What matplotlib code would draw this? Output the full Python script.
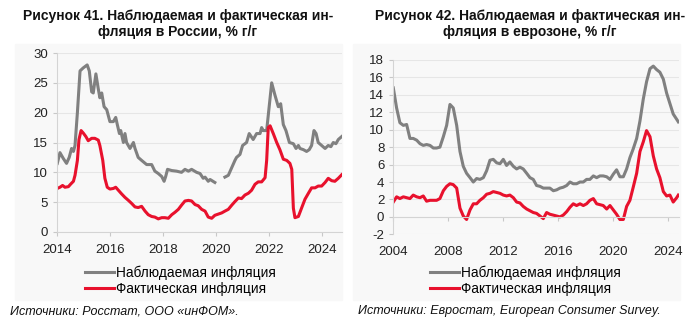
import numpy as np
import matplotlib
matplotlib.use("Agg")
import matplotlib.pyplot as plt
from matplotlib.patches import Rectangle

plt.rcParams['font.family'] = ['Liberation Sans', 'DejaVu Sans']
plt.rcParams['axes.unicode_minus'] = False

# --- Russia (Рисунок 41) ---
ru_obs_x = [2014.00, 2014.10, 2014.23, 2014.35, 2014.45, 2014.54, 2014.61, 2014.67, 2014.76, 2014.86,
            2014.98, 2015.13, 2015.21, 2015.30, 2015.36, 2015.46, 2015.55, 2015.61, 2015.68, 2015.77,
            2015.87, 2015.99, 2016.12, 2016.21, 2016.27, 2016.35, 2016.40, 2016.50, 2016.56, 2016.62,
            2016.75, 2016.88, 2016.94, 2017.06, 2017.19, 2017.38, 2017.57, 2017.69, 2017.82, 2017.95,
            2018.04, 2018.10, 2018.17, 2018.33, 2018.51, 2018.70, 2018.83, 2018.96, 2019.08, 2019.27,
            2019.40, 2019.52, 2019.59, 2019.71, 2019.78, 2019.96, 2020.15,
            2020.34, 2020.47, 2020.57, 2020.72, 2020.78, 2020.91, 2021.01, 2021.16, 2021.26, 2021.41,
            2021.54, 2021.67, 2021.73, 2021.79, 2021.92, 2022.11, 2022.23, 2022.36, 2022.45, 2022.55,
            2022.65, 2022.78, 2022.93, 2023.03, 2023.12, 2023.18, 2023.31, 2023.43, 2023.53, 2023.62,
            2023.71, 2023.79, 2023.87, 2024.00, 2024.13, 2024.25, 2024.35, 2024.44, 2024.54, 2024.63,
            2024.76]
ru_obs = [11.5, 13.3, 12.3, 11.5, 12.5, 14.0, 13.5, 14.5, 20.0, 27.0,
          27.5, 28.0, 27.0, 23.5, 23.3, 26.5, 24.0, 22.5, 23.3, 21.0,
          20.5, 18.5, 18.5, 19.2, 18.0, 16.5, 17.0, 15.0, 16.5, 15.0,
          14.0, 15.0, 14.0, 12.5, 12.0, 11.3, 11.3, 10.2, 9.8, 9.3,
          8.5, 9.3, 10.5, 10.3, 10.2, 10.0, 10.5, 10.2, 10.5, 10.0,
          9.8, 9.0, 9.2, 8.5, 8.8, 8.3, np.nan,
          9.2, 9.5, 10.5, 12.0, 12.5, 13.0, 14.5, 15.0, 16.5, 15.5,
          16.5, 16.5, 17.5, 17.0, 17.0, 25.0, 23.0, 21.0, 21.5, 18.0,
          17.0, 15.0, 14.8, 14.0, 14.5, 14.0, 13.8, 13.5, 13.8, 14.5,
          17.0, 16.5, 15.0, 14.5, 14.0, 14.5, 14.3, 15.0, 14.8, 15.5,
          16.0]

ru_act_x = [2014.00, 2014.10, 2014.20, 2014.29, 2014.42, 2014.50, 2014.61, 2014.67, 2014.76, 2014.82,
            2014.90, 2014.98, 2015.08, 2015.17, 2015.30, 2015.42, 2015.55, 2015.61, 2015.72, 2015.80,
            2015.89, 2015.99, 2016.12, 2016.21, 2016.31, 2016.43, 2016.56, 2016.69, 2016.81, 2016.94,
            2017.06, 2017.19, 2017.32, 2017.44, 2017.57, 2017.69, 2017.82, 2017.95, 2018.07, 2018.20,
            2018.33, 2018.45, 2018.58, 2018.70, 2018.83, 2018.96, 2019.08, 2019.21, 2019.33, 2019.46,
            2019.59, 2019.71, 2019.84, 2019.96, 2020.09, 2020.22, 2020.34, 2020.47, 2020.60, 2020.72,
            2020.85, 2020.97, 2021.10, 2021.23, 2021.35, 2021.48, 2021.60, 2021.73, 2021.86, 2021.92,
            2021.98, 2022.05, 2022.17, 2022.30, 2022.42, 2022.55, 2022.68, 2022.80, 2022.87, 2022.93,
            2022.99, 2023.12, 2023.24, 2023.37, 2023.50, 2023.62, 2023.75, 2023.87, 2024.00, 2024.13,
            2024.25, 2024.38, 2024.50, 2024.63, 2024.76]
ru_act = [7.3, 7.5, 7.8, 7.5, 7.6, 8.0, 8.5, 9.5, 12.0, 15.5,
          17.0, 16.6, 16.0, 15.3, 15.7, 15.7, 15.4, 14.5, 12.0, 9.0,
          7.5, 7.2, 7.3, 7.5, 7.0, 6.4, 5.8, 5.3, 4.8, 4.2,
          4.1, 4.3, 3.5, 2.9, 2.6, 2.5, 2.2, 2.4, 2.4, 2.3,
          2.9, 3.3, 3.8, 4.5, 5.2, 5.3, 5.2, 4.6, 4.4, 3.8,
          3.5, 2.5, 2.3, 2.8, 3.0, 3.2, 3.5, 3.8, 4.5, 5.1,
          5.7, 5.6, 6.2, 6.5, 7.0, 8.0, 8.4, 8.4, 9.1, 12.0,
          17.5, 17.8, 16.5, 15.0, 13.8, 12.2, 12.0, 11.5, 10.5, 4.0,
          2.4, 2.6, 4.0, 5.5, 6.5, 7.4, 7.4, 7.7, 7.7, 8.3,
          9.0, 8.6, 8.5, 9.0, 9.6]

# --- Eurozone (Рисунок 42) ---
ez_x = [2004.00, 2004.24, 2004.48, 2004.73, 2004.97, 2005.21, 2005.45, 2005.70, 2005.94, 2006.18,
        2006.42, 2006.67, 2006.91, 2007.15, 2007.39, 2007.64, 2007.88, 2008.12, 2008.36, 2008.61,
        2008.85, 2009.09, 2009.33, 2009.58, 2009.82, 2010.06, 2010.30, 2010.55, 2010.79, 2011.03,
        2011.27, 2011.52, 2011.76, 2012.00, 2012.24, 2012.48, 2012.73, 2012.97, 2013.21, 2013.45,
        2013.70, 2013.94, 2014.18, 2014.42, 2014.67, 2014.91, 2015.15, 2015.39, 2015.64, 2015.88,
        2016.12, 2016.36, 2016.61, 2016.85, 2017.09, 2017.33, 2017.58, 2017.82, 2018.06, 2018.30,
        2018.55, 2018.79, 2019.03, 2019.27, 2019.52, 2019.76, 2020.00, 2020.24, 2020.48, 2020.73,
        2020.97, 2021.21, 2021.45, 2021.70, 2021.94, 2022.18, 2022.42, 2022.67, 2022.91, 2023.15,
        2023.39, 2023.64, 2023.88, 2024.12, 2024.36, 2024.61, 2024.73]
ez_obs = [14.8, 12.5, 10.8, 10.5, 10.6, 9.0, 9.0, 8.8, 8.4, 8.2,
          8.3, 8.2, 7.9, 7.9, 8.0, 9.2, 10.5, 12.9, 12.5, 10.5,
          7.5, 5.8, 5.0, 4.5, 4.0, 4.4, 4.3, 4.5, 5.3, 6.5,
          6.6, 6.2, 6.1, 6.6, 5.9, 6.3, 5.8, 5.5, 5.7, 5.5,
          5.0, 4.5, 4.3, 3.6, 3.5, 3.3, 3.3, 3.3, 3.0, 3.1,
          3.3, 3.4, 3.6, 4.0, 3.8, 3.8, 4.0, 4.0, 4.3, 4.3,
          4.7, 4.5, 4.7, 4.7, 4.6, 4.3, 4.9, 5.4, 4.6, 4.6,
          5.5, 6.8, 7.8, 9.0, 11.0, 13.5, 15.5, 17.0, 17.3, 16.9,
          16.6, 15.8, 14.2, 13.0, 11.8, 11.2, 10.9]
ez_act = [1.7, 2.3, 2.1, 2.3, 2.2, 2.1, 2.5, 2.3, 2.2, 2.4,
          1.8, 1.9, 1.9, 1.9, 2.1, 3.0, 3.5, 3.8, 3.7, 3.3,
          1.0, 0.1, -0.3, 0.8, 1.5, 1.5, 1.9, 2.2, 2.6, 2.7,
          2.9, 2.8, 2.7, 2.5, 2.4, 2.5, 2.2, 1.7, 1.6, 1.2,
          0.9, 0.7, 0.5, 0.4, 0.1, -0.2, 0.5, 0.3, 0.2, 0.1,
          0.0, 0.2, 0.6, 1.1, 1.5, 1.3, 1.5, 1.3, 1.5, 1.9,
          2.1, 1.5, 1.4, 1.3, 0.9, 1.3, 0.8, 0.3, -0.3, -0.3,
          1.2, 1.9, 3.4, 5.0, 7.5, 8.6, 9.9, 9.2, 7.0, 5.5,
          4.5, 2.9, 2.4, 2.5, 1.7, 2.2, 2.5]

labels = ['Наблюдаемая инфляция', 'Фактическая инфляция']
titles = ['Рисунок 41. Наблюдаемая и фактическая ин-\nфляция в России, % г/г',
          'Рисунок 42. Наблюдаемая и фактическая ин-\nфляция в еврозоне, % г/г']
sources = ['Источники: Росстат, ООО «инФОМ».',
           'Источники: Евростат, European Consumer Survey.']

GRAY = '#808080'
RED = '#e8112d'
W, H = 700, 324

fig = plt.figure(figsize=(7, 3.24), dpi=100)

def fx(px):
    return px / W

def fy(py):
    return 1 - py / H

# light panels behind each chart
for x0 in (15, 353):
    fig.patches.append(Rectangle((fx(x0), fy(300)), fx(327), 256 / H,
                                 transform=fig.transFigure, color='#f8f8f8', zorder=-10))

ax1 = fig.add_axes([fx(57.3), fy(232), fx(284.7), 179 / H])
ax2 = fig.add_axes([fx(393.3), fy(234.3), fx(285.7), 174.3 / H])

ax1.plot(ru_obs_x, ru_obs, color=GRAY, lw=2.2, label=labels[0])
ax1.plot(ru_act_x, ru_act, color=RED, lw=2.2, label=labels[1])
ax1.set_xlim(2014, 2024.77)
ax1.set_ylim(0, 30)
ax1.set_yticks(range(0, 31, 5))
ax1.set_xticks(range(2014, 2025, 2))
ax1.tick_params(axis='x', pad=5.3)

ax2.plot(ez_x, ez_obs, color=GRAY, lw=2.2, label=labels[0])
ax2.plot(ez_x, ez_act, color=RED, lw=2.2, label=labels[1])
ax2.set_xlim(2004, 2024.78)
ax2.set_ylim(-2, 18)
ax2.set_yticks(range(-2, 19, 2))
ax2.set_xticks(range(2004, 2025, 4))
ax2.spines['bottom'].set_position(('data', 0))
ax2.tick_params(axis='x', pad=18.2)

for ax in (ax1, ax2):
    ax.set_facecolor('none')
    ax.grid(axis='y', color='#e6e6e6', lw=0.8)
    ax.set_axisbelow(True)
    for s in ('top', 'right'):
        ax.spines[s].set_visible(False)
    ax.spines['left'].set_color('#d4d4d4')
    ax.spines['bottom'].set_color('#d4d4d4')
    ax.tick_params(axis='both', length=3, color='#c8c8c8', labelsize=9.5,
                   labelcolor='#222222')

# titles
for cx, t in zip((178, 530), titles):
    fig.text(fx(cx), fy(24), t, ha='center', va='center', fontsize=10,
             fontweight='bold', linespacing=1.1, color='#111111')

# legends
for ax, lx in ((ax1, 85), (ax2, 430)):
    fig.legend(*ax.get_legend_handles_labels(), loc='upper left',
               bbox_to_anchor=(fx(lx), fy(265.5)), frameon=False, fontsize=9.8,
               handlelength=2.1, handletextpad=0.2, labelspacing=0.12,
               borderpad=0, borderaxespad=0)

for sx, s in zip((10, 358), sources):
    fig.text(fx(sx), fy(311), s, ha='left', va='center', fontsize=9,
             style='italic', color='#111111')

fig.savefig('out.png', dpi=100)
